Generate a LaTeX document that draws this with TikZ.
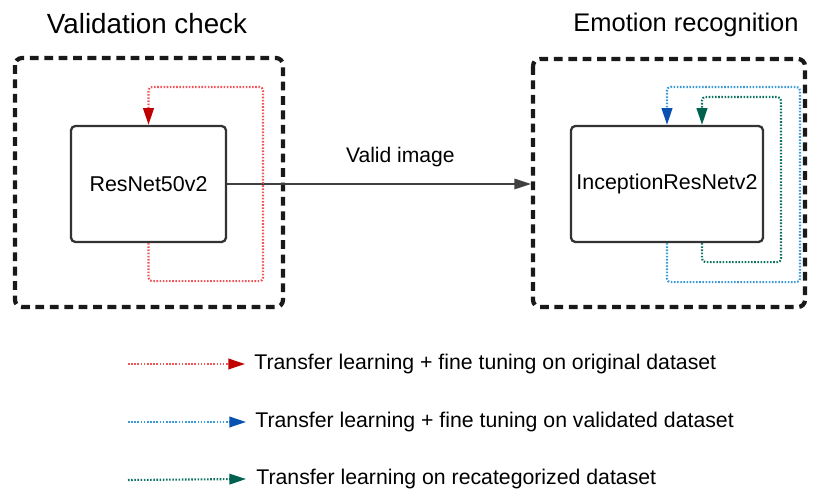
\documentclass[tikz,border=0pt]{standalone}
\usepackage{fontspec}
\setmainfont{Liberation Sans}
\usetikzlibrary{arrows.meta,positioning}

\definecolor{redline}{HTML}{F0555A}
\definecolor{redtip}{HTML}{C00000}
\definecolor{blueline}{HTML}{3A9AD8}
\definecolor{bluetip}{HTML}{0752B0}
\definecolor{greenline}{HTML}{2E9C8C}
\definecolor{greentip}{HTML}{00614F}

\begin{document}
\begin{tikzpicture}[x=0.02cm,y=-0.02cm,
    frame/.style={draw=black!90,line width=2.4pt,dash pattern=on 5pt off 3.2pt,rounded corners=4pt},
    net/.style={draw=black!80,line width=1.3pt,rounded corners=2.5pt,minimum width=155*0.02cm,minimum height=116*0.02cm,font=\fontsize{12.2}{14}\selectfont,inner sep=0pt},
    title/.style={font=\fontsize{14.5}{17}\selectfont},
    legend/.style={anchor=west,inner sep=0pt,font=\fontsize{12.1}{14}\selectfont},
    tip/.style={-{Triangle[length=9.5pt,width=6pt,color=#1]}},
    loop/.style={line width=1.2pt,dash pattern=on 0.9pt off 0.9pt,rounded corners=2pt},
    redloop/.style={loop,draw=redline,tip=redtip},
    blueloop/.style={loop,draw=blueline,tip=bluetip},
    greenloop/.style={loop,draw=greentip!70!greenline,tip=greentip}]
  \useasboundingbox (0,0) rectangle (814,492);

  % the two stages
  \node[title,font=\fontsize{15.8}{18}\selectfont] (vtitle) at (147,24) {Validation check};
  \node[title] (etitle) at (686,25) {Emotion recognition};
  \draw[frame] (15,58) rectangle (283,307);
  \draw[frame] (533,59) rectangle (805,307);
  \coordinate (eframe) at (531,184);

  \node[net] (res) at (148.5,184) {ResNet50v2};
  \node[net,minimum width=192*0.02cm] (inc) at (667,184) {InceptionResNetv2};

  \draw[tip=black!75,line width=0.8pt,black!75] (res.east) -- node[pos=0.57,above=6pt,font=\fontsize{12}{14}\selectfont,black] {Valid image} (eframe);

  % fine tuning loops
  \draw[redloop] (res.south) -- ++(0,38) -| (263,87) -| (res.north);
  \draw[blueloop] (inc.south) -- ++(0,39) -| (800,87) -| (inc.north);
  \draw[greenloop] ([xshift=35*0.02cm]inc.south) -- ++(0,19) -| (781,97) -| ([xshift=35*0.02cm]inc.north);

  % legend
  \node[legend] (l1) at (254,364) {Transfer learning + fine tuning on original dataset};
  \node[legend] (l2) at (255,422) {Transfer learning + fine tuning on validated dataset};
  \node[legend] (l3) at (256,479) {Transfer learning on recategorized dataset};
  \coordinate (s1) at (128,364);
  \coordinate (s2) at (128,422);
  \coordinate (s3) at (128,480);
  \draw[redloop] (s1) -- ([xshift=-9*0.02cm]l1.west);
  \draw[blueloop] (s2) -- ([xshift=-9*0.02cm]l2.west);
  \draw[greenloop] (s3) -- ([xshift=-10*0.02cm]l3.west);
\end{tikzpicture}
\end{document}
